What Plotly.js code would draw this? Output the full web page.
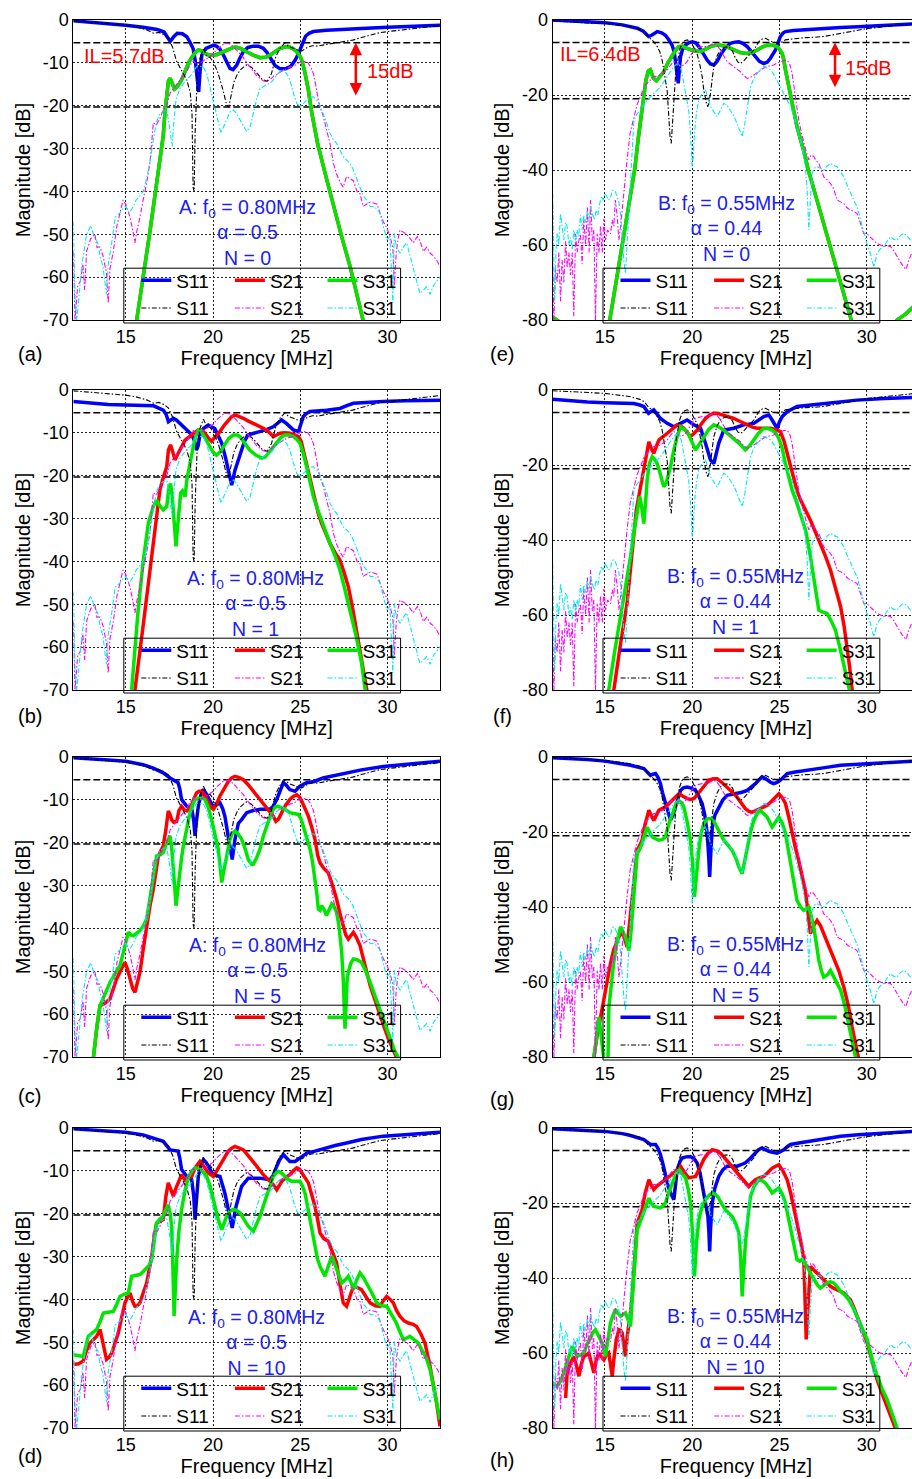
<!DOCTYPE html>
<html><head><meta charset="utf-8">
<script src="https://cdn.plot.ly/plotly-3.0.1.min.js"></script>
<style>html,body{margin:0;padding:0;overflow:hidden;background:#fff;width:912px;height:1479px}#chart{width:922px;height:1479px}</style>
</head><body><div id="chart"></div>
<script>
// ===================== DATA =====================
// frequency axis ticks / magnitude ticks
const xTicks = [15, 20, 25, 30];
const yTicksA = [0, -10, -20, -30, -40, -50, -60, -70];
const yTicksB = [0, -20, -40, -60, -80];
const traceNames = ['S11', 'S21', 'S31'];
const nValues = [0, 1, 5, 10];
const infoA = ['A: f<sub>0</sub> = 0.80MHz', 'α = 0.5'];
const infoB = ['B: f<sub>0</sub> = 0.55MHz', 'α = 0.44'];
const ilLevelsA = [-5.3, -20.3];
const ilLevelsB = [-6.0, -21.0];
const ilTextA = 'IL=5.7dB', ilTextB = 'IL=6.4dB', spanText = '15dB';

// ---- Device A, measured [MHz, dB]
const measA_S11 = [[12,-0.2],[13,-0.5],[14,-0.8],[15,-1.2],[15.6,-1.6],[16.2,-2.3],[16.6,-3.1],[16.9,-2.9],[17.2,-3.4],[17.45,-4.2],[17.7,-6.5],[17.9,-9.5],[18.1,-11],[18.3,-12.5],[18.5,-14],[18.7,-17],[18.8,-22],[18.86,-39],[18.92,-40],[18.98,-26],[19.1,-13],[19.25,-9],[19.45,-6.8],[19.65,-8.5],[19.85,-8.8],[20.05,-10],[20.3,-12.5],[20.55,-16],[20.78,-19.8],[20.9,-20.3],[21.05,-17.5],[21.2,-14.5],[21.4,-12.6],[21.6,-11.5],[21.9,-10.5],[22.2,-11],[22.5,-12.3],[22.8,-13.8],[23.1,-14.3],[23.35,-12.5],[23.6,-8.5],[23.85,-6.5],[24.1,-5.4],[24.35,-6.2],[24.6,-6.6],[24.85,-7],[25.1,-7.2],[25.4,-6.4],[25.7,-6],[26,-6.1],[26.5,-5.7],[27,-5.4],[27.5,-5.1],[28,-4.7],[28.5,-4.1],[29,-3.5],[29.5,-3],[30,-2.7],[31,-2.2],[32,-1.8],[33,-1.3]];
const measA_S21 = [[12,-54],[12.1,-70],[12.25,-62],[12.4,-61],[12.55,-57],[12.65,-63],[12.76,-54],[13,-51],[13.24,-50],[13.35,-53],[13.53,-53],[13.7,-55],[13.9,-59],[14,-66],[14.1,-58],[14.29,-54],[14.5,-48],[14.67,-45],[14.85,-42],[15,-43],[15.25,-46],[15.4,-49],[15.53,-52],[15.65,-49],[15.82,-46],[16,-42],[16.2,-38],[16.4,-33],[16.58,-24],[16.75,-24.5],[16.96,-23],[17.15,-21],[17.35,-20],[17.55,-17],[17.73,-16],[17.9,-15],[18.11,-14],[18.3,-13],[18.49,-12],[18.7,-10.5],[18.87,-9.5],[19.05,-10.3],[19.25,-10],[19.45,-9.5],[19.64,-9],[19.83,-8.5],[20.02,-8],[20.2,-7],[20.4,-6.2],[20.6,-5.6],[20.78,-5.4],[20.97,-5.6],[21.16,-6.2],[21.35,-7],[21.55,-7.8],[21.74,-8.8],[21.93,-10],[22.12,-11],[22.31,-12],[22.5,-13],[22.69,-13.6],[22.88,-14.2],[23.07,-14.4],[23.3,-13.8],[23.5,-13],[23.65,-12.8],[23.9,-12],[24.22,-11.3],[24.4,-11],[24.6,-10.8],[24.8,-10.2],[24.98,-9.8],[25.2,-9.7],[25.4,-9.8],[25.6,-11],[25.75,-12.5],[25.9,-15.5],[26.03,-18.7],[26.15,-20.5],[26.32,-22.5],[26.5,-25.5],[26.7,-28.8],[26.9,-33.5],[27.08,-36],[27.3,-38],[27.46,-39],[27.65,-36.5],[27.85,-37],[28.04,-37.5],[28.25,-40],[28.42,-40.5],[28.6,-43.5],[28.8,-43],[29,-42.5],[29.2,-42.7],[29.4,-43],[29.56,-45],[29.75,-47],[29.95,-48.5],[30.1,-50],[30.3,-53],[30.38,-62],[30.5,-54],[30.6,-51],[30.71,-49],[30.9,-49.5],[31.09,-50],[31.3,-51],[31.47,-52],[31.7,-50.5],[31.85,-51.5],[32.05,-54],[32.24,-53],[32.45,-54.5],[32.62,-55],[32.8,-56],[33,-57.5]];
const measA_S31 = [[12,-47],[12.1,-65],[12.2,-70],[12.3,-65],[12.5,-57],[12.76,-50],[13,-48],[13.24,-51],[13.4,-52],[13.53,-55],[13.7,-57.5],[13.9,-64],[14,-57],[14.2,-52],[14.4,-46],[14.67,-45],[14.85,-44],[15,-43.5],[15.2,-45],[15.44,-43.5],[15.6,-42],[15.82,-41],[16,-40],[16.2,-37],[16.4,-33],[16.58,-28],[16.75,-24],[16.96,-21.8],[17.15,-21.5],[17.35,-21],[17.55,-26],[17.66,-29.5],[17.75,-24],[17.88,-18.7],[18.1,-16],[18.3,-14.8],[18.5,-13.8],[18.68,-13.2],[18.87,-12],[19.06,-10.9],[19.25,-10.8],[19.45,-11],[19.64,-12.5],[19.83,-15.5],[20.02,-18.7],[20.2,-22],[20.45,-26.4],[20.6,-25],[20.78,-23],[20.97,-21.5],[21.16,-21],[21.35,-21.8],[21.55,-23.3],[21.74,-24.5],[21.93,-26],[22.12,-25],[22.31,-21.5],[22.5,-18.5],[22.69,-16],[22.88,-15.6],[23.07,-15],[23.26,-14.8],[23.45,-14],[23.65,-12.8],[23.84,-12],[24.03,-11.7],[24.22,-12.5],[24.4,-14],[24.6,-17],[24.8,-19.5],[24.98,-20.2],[25.17,-19.5],[25.36,-18.7],[25.56,-18],[25.75,-17.9],[25.94,-18.7],[26.13,-20],[26.32,-21.8],[26.51,-24],[26.7,-26.4],[26.9,-28],[27.08,-28.8],[27.27,-30.5],[27.46,-31.9],[27.66,-32.7],[27.85,-33.5],[28.04,-35],[28.23,-37],[28.42,-38.9],[28.6,-41],[28.8,-42],[29,-43.5],[29.18,-43.5],[29.37,-44],[29.56,-45],[29.75,-48],[29.95,-51.3],[30.13,-50.5],[30.3,-66],[30.38,-49.8],[30.5,-53],[30.71,-54.4],[30.9,-53],[31.09,-52],[31.28,-55],[31.47,-57.5],[31.66,-61],[31.85,-63.8],[32.05,-63],[32.24,-62.2],[32.43,-64],[32.62,-62],[32.8,-61],[33,-59.9]];

// ---- Device A, simulated (N = 0, 1, 5, 10)
const simA0_S11 = [[12,-0.2],[13,-0.5],[14,-0.8],[15,-1.2],[16,-1.7],[16.8,-2.2],[17.2,-2.8],[17.4,-4],[17.55,-5],[17.75,-3.9],[17.95,-3.1],[18.25,-3.2],[18.5,-3.9],[18.7,-5.3],[18.87,-6.8],[19.0,-10],[19.1,-14],[19.18,-16.8],[19.26,-12],[19.36,-8.2],[19.6,-6.6],[19.83,-6.1],[20.0,-5.9],[20.2,-6.1],[20.4,-6.8],[20.6,-8.2],[20.8,-10],[20.97,-11.3],[21.15,-11.6],[21.36,-10.5],[21.55,-8.8],[21.74,-7.4],[22.0,-6.4],[22.3,-6.1],[22.6,-6.1],[22.88,-6.6],[23.1,-7.6],[23.3,-9],[23.55,-10.6],[23.85,-11.4],[24.15,-11.4],[24.45,-10.8],[24.7,-9.4],[24.9,-7.8],[25.0,-6.8],[25.15,-5],[25.3,-3.8],[25.5,-3.1],[25.75,-2.7],[26.5,-2.4],[27.5,-2.1],[28.8,-1.9],[30,-1.7],[31.5,-1.4],[33,-1.2]];
const simA0_S31 = [[15.55,-72],[15.63,-70],[16.4,-49],[17.15,-27],[17.25,-21.4],[17.35,-16.7],[17.45,-14.2],[17.54,-13.6],[17.65,-14.8],[17.8,-16.1],[17.95,-15.6],[18.2,-14],[18.4,-12],[18.6,-10],[18.8,-8.6],[19.0,-7.5],[19.16,-7],[19.35,-7.2],[19.54,-7.8],[19.8,-8.2],[20.2,-8.1],[20.5,-7.5],[20.8,-7],[21.1,-6.5],[21.3,-6.3],[21.6,-6.7],[21.93,-7.4],[22.3,-8.2],[22.7,-8.8],[23.0,-8.7],[23.26,-8.2],[23.55,-7.3],[23.84,-6.6],[24.1,-6.3],[24.3,-6.2],[24.55,-6.6],[24.8,-7.4],[25.0,-8.6],[25.1,-9.6],[25.25,-12],[25.46,-16.3],[25.65,-21.5],[25.84,-26.2],[26.0,-29],[26.5,-37],[26.9,-43.5],[27.4,-51],[27.85,-57.5],[28.2,-63],[28.6,-70],[28.65,-71]];
const simA0_S21 = simA0_S31; // identical to S31 for N = 0 (hidden under the green curve)

const simA1_S11 = [[12,-2.7],[13,-3.1],[14,-3.4],[15,-3.5],[16,-3.6],[16.6,-3.7],[17.15,-4.7],[17.3,-5.5],[17.45,-7.4],[17.6,-7],[17.73,-6.6],[17.9,-7],[18.1,-7.8],[18.5,-9.3],[18.8,-10.5],[18.95,-12],[19.06,-14],[19.15,-13],[19.25,-10.5],[19.45,-9],[19.73,-8.2],[20.1,-9],[20.3,-10.5],[20.5,-12.4],[20.7,-15.5],[20.9,-19.4],[21.07,-22.2],[21.26,-18.7],[21.55,-14.8],[21.8,-12],[22.0,-10.5],[22.7,-9.7],[23.1,-9.2],[23.45,-8.6],[23.75,-7.6],[23.93,-7],[24.2,-7.8],[24.6,-9.3],[24.9,-9.7],[25.05,-8],[25.17,-6.2],[25.35,-5.5],[25.55,-5],[26.5,-4.7],[27.27,-4.3],[27.7,-3.6],[28.04,-3.1],[29.75,-2.7],[31,-2.5],[33,-2.4]];
const simA1_S21 = [[15.45,-72],[15.53,-70],[16.0,-55],[16.5,-38],[16.96,-23.3],[17.15,-20.5],[17.35,-17.9],[17.45,-14],[17.57,-12.8],[17.7,-14.5],[17.82,-16.3],[18.0,-14.8],[18.1,-14],[18.4,-11.7],[18.78,-10.5],[19.16,-9.3],[19.35,-9.5],[19.54,-10.1],[19.75,-11.3],[19.92,-12],[20.1,-11],[20.4,-9.7],[20.65,-8.2],[20.88,-7],[21.07,-6.2],[21.26,-5.8],[21.5,-6.1],[21.74,-6.6],[22.0,-7.2],[22.31,-7.8],[22.7,-8.6],[23.07,-9.3],[23.3,-10.2],[23.45,-10.9],[23.65,-10.5],[23.84,-10.1],[24.1,-10],[24.4,-10.1],[24.7,-10.5],[24.9,-10.9],[25.05,-12],[25.17,-14],[25.3,-16],[25.46,-18.7],[25.65,-22.5],[25.84,-25.7],[26.03,-28.8],[26.22,-31.1],[26.45,-33.5],[26.7,-35.8],[27.0,-38],[27.27,-39.7],[27.5,-42.5],[27.75,-45.9],[28.0,-51],[28.23,-56.8],[28.5,-63],[28.8,-70],[28.85,-71]];
const simA1_S31 = [[15.28,-72],[15.34,-70],[15.7,-52],[16.0,-40],[16.3,-31],[16.58,-27.2],[16.77,-25.7],[16.95,-27],[17.15,-28],[17.35,-27.2],[17.47,-23],[17.57,-21.8],[17.67,-25],[17.8,-32],[17.88,-36.5],[17.95,-33],[18.05,-28],[18.15,-24],[18.25,-23.5],[18.4,-24.9],[18.5,-21],[18.6,-18.7],[18.75,-15.5],[18.87,-13.2],[19.0,-11],[19.16,-9.3],[19.3,-9.5],[19.44,-10.5],[19.65,-11.8],[19.83,-13.2],[20.0,-14.5],[20.2,-15.2],[20.4,-14.5],[20.6,-13.2],[20.9,-11.3],[21.16,-10.5],[21.4,-10.5],[21.55,-10.9],[21.8,-12.2],[22.1,-14],[22.45,-15.2],[22.8,-15.9],[23.0,-15.6],[23.3,-14],[23.65,-12],[23.9,-11],[24.1,-10.5],[24.35,-10.5],[24.6,-10.9],[24.8,-11.5],[24.98,-12.4],[25.15,-14.5],[25.36,-17.9],[25.55,-21.5],[25.75,-24.9],[26.0,-28],[26.13,-29.5],[26.4,-32.5],[26.7,-35.8],[27.0,-38.8],[27.27,-42],[27.55,-46.5],[27.85,-51.3],[28.2,-57.5],[28.5,-63.5],[28.7,-70],[28.75,-71]];

const simA5_S11 = [[12,-0.2],[13,-0.4],[14,-0.7],[15,-1],[16,-1.8],[16.58,-2.6],[17.15,-3.7],[17.54,-4.9],[17.8,-5.5],[18.0,-6],[18.1,-7.5],[18.2,-9.9],[18.5,-11.5],[18.78,-11.9],[18.9,-15],[18.97,-18.4],[19.05,-15],[19.16,-11.5],[19.3,-9],[19.45,-7.6],[19.6,-8.5],[19.73,-9.5],[20.0,-11.5],[20.2,-11.2],[20.4,-10.7],[20.55,-12],[20.68,-13.8],[20.85,-18],[20.97,-21.5],[21.1,-23.9],[21.26,-19.2],[21.45,-15.5],[21.64,-14.6],[21.93,-13],[22.3,-12.5],[22.7,-12.2],[23.26,-12.2],[23.45,-11.5],[23.65,-9.9],[23.85,-8],[24.03,-6],[24.2,-6.6],[24.4,-7.6],[24.7,-8],[24.98,-6.8],[25.36,-6],[25.8,-5.7],[26.3,-4.9],[27,-4.3],[27.65,-3.7],[28.5,-3],[29.75,-2.2],[31,-1.7],[32,-1.3],[33,-1]];
const simA5_S21 = [[13.1,-72],[13.15,-70],[13.35,-63],[13.53,-58],[13.8,-57.5],[14.1,-56.4],[14.3,-54],[14.48,-51.8],[14.75,-49.5],[14.96,-47.9],[15.1,-49.5],[15.25,-51.8],[15.4,-54],[15.53,-54.9],[15.65,-53],[15.82,-50.2],[16.0,-45],[16.2,-39.4],[16.4,-34.5],[16.58,-30.9],[16.75,-26],[16.87,-23.1],[17.0,-22],[17.15,-20.8],[17.3,-17],[17.44,-12.6],[17.55,-13.5],[17.63,-14.6],[17.75,-15.2],[17.92,-15],[18.05,-12.5],[18.2,-11.5],[18.35,-12.3],[18.5,-12.6],[18.65,-12],[18.78,-11.1],[18.95,-9.4],[19.06,-8.4],[19.2,-8],[19.35,-8],[19.55,-9.2],[19.73,-10.7],[19.9,-11.8],[20.02,-12.2],[20.2,-11],[20.4,-9.1],[20.65,-7.2],[20.88,-5.7],[21.07,-4.9],[21.26,-4.5],[21.5,-4.8],[21.74,-5.3],[22.0,-6.4],[22.31,-8],[22.6,-9.4],[22.88,-10.7],[23.15,-12.2],[23.45,-13.8],[23.6,-15],[23.75,-14.5],[23.93,-13],[24.15,-11.3],[24.4,-9.9],[24.6,-9.2],[24.8,-8.8],[24.95,-9.3],[25.08,-10.3],[25.25,-11.8],[25.46,-13.8],[25.65,-16.3],[25.84,-19.2],[26.0,-23],[26.13,-24.7],[26.35,-26],[26.6,-27],[26.85,-30],[27.08,-33.2],[27.3,-37],[27.46,-39.4],[27.6,-41.5],[27.75,-42.5],[27.9,-41.5],[28.04,-40.9],[28.2,-42],[28.42,-44],[28.7,-48.5],[29.0,-53.3],[29.3,-57],[29.56,-60.3],[29.8,-63],[30.04,-65.7],[30.3,-68],[30.5,-70],[30.55,-71]];
const simA5_S31 = [[13.1,-72],[13.15,-70],[13.35,-63],[13.53,-58],[13.8,-55.5],[14.1,-52.6],[14.4,-50.5],[14.67,-48.7],[14.9,-45],[15.15,-40.9],[15.3,-41.5],[15.44,-41.7],[15.6,-41.2],[15.82,-40.5],[16.0,-39.5],[16.2,-37.8],[16.35,-34],[16.49,-30.1],[16.65,-26],[16.77,-23.1],[17.0,-22.8],[17.15,-22.3],[17.35,-20],[17.54,-18.4],[17.63,-21],[17.73,-25.4],[17.82,-31],[17.88,-34.7],[17.95,-32],[18.07,-27.8],[18.2,-23.5],[18.3,-20.8],[18.5,-16.5],[18.68,-13],[18.85,-11],[18.97,-9.9],[19.1,-9.6],[19.25,-9.5],[19.4,-9.6],[19.54,-9.9],[19.75,-12],[19.92,-14.6],[20.1,-17.5],[20.3,-21.5],[20.42,-26],[20.5,-29.3],[20.6,-27],[20.7,-24.7],[20.85,-21.5],[20.97,-19.2],[21.1,-17.8],[21.26,-17.3],[21.45,-18],[21.64,-19.2],[21.85,-21.5],[22.02,-23.9],[22.2,-25],[22.31,-25],[22.5,-23.5],[22.69,-21.5],[22.88,-18.5],[23.07,-16.1],[23.26,-14],[23.45,-12.2],[23.6,-11.6],[23.74,-11.5],[23.95,-11.8],[24.12,-12.2],[24.4,-13],[24.65,-13.3],[24.89,-13.4],[25.05,-14.5],[25.17,-16.1],[25.36,-18.5],[25.56,-21.5],[25.7,-24.5],[25.84,-28.5],[25.95,-32],[26.03,-35.5],[26.13,-35.8],[26.22,-34.7],[26.35,-35.5],[26.5,-37],[26.65,-35.5],[26.8,-34.3],[26.95,-35],[27.08,-36.3],[27.2,-39],[27.37,-45.6],[27.46,-52],[27.52,-58],[27.56,-63.4],[27.62,-58],[27.68,-52],[27.75,-50.2],[27.9,-48],[28.04,-47.1],[28.25,-47.3],[28.5,-47.9],[28.75,-50],[29.0,-52.6],[29.3,-56],[29.56,-59.5],[29.85,-62.5],[30.13,-65.7],[30.4,-68.5],[30.6,-70],[30.65,-71]];

const simA10_S11 = [[12,-0.2],[13,-0.5],[14,-0.8],[15,-1],[16,-1.6],[16.58,-2.3],[17.15,-3.1],[17.54,-5.1],[17.8,-5.3],[18.0,-5.4],[18.1,-7],[18.2,-9.7],[18.5,-11.3],[18.78,-12],[18.9,-16],[18.97,-21.4],[19.05,-17],[19.16,-11.3],[19.3,-8.8],[19.45,-7.4],[19.6,-8],[19.73,-8.9],[20.0,-10.9],[20.4,-11.3],[20.68,-15.2],[20.85,-18.5],[20.97,-20.6],[21.1,-23.3],[21.32,-18.3],[21.5,-15.2],[21.64,-13.6],[22.02,-11.7],[22.7,-11.7],[23.26,-12.1],[23.45,-11],[23.65,-8.9],[23.85,-7.2],[24.03,-6.2],[24.2,-6.9],[24.4,-7.8],[24.7,-7.8],[25.08,-6.6],[25.4,-5.8],[25.84,-5.4],[26.41,-4.7],[27,-4.1],[27.65,-3.5],[28.5,-2.7],[29.75,-1.9],[31,-1.5],[32,-1.2],[33,-1]];
const simA10_S21 = [[12,-55.2],[12.3,-55],[12.57,-54.4],[12.75,-52],[12.95,-50.2],[13.15,-49.5],[13.34,-48.6],[13.53,-47],[13.7,-50.5],[13.9,-54],[14.05,-53.5],[14.2,-52.5],[14.4,-50],[14.58,-47.8],[14.78,-44],[14.96,-40.8],[15.1,-39.5],[15.25,-38.5],[15.4,-40.5],[15.53,-41.6],[15.65,-41.5],[15.82,-40.8],[16.0,-38.5],[16.2,-36.2],[16.35,-33],[16.49,-29.9],[16.65,-25],[16.77,-22.2],[16.95,-21.8],[17.15,-21.4],[17.3,-16],[17.44,-12.8],[17.6,-14.5],[17.73,-15.9],[17.88,-14],[18.0,-12.8],[18.2,-10.9],[18.4,-12.1],[18.6,-11.6],[18.78,-11.3],[18.95,-9.5],[19.06,-8.9],[19.25,-7.8],[19.45,-8.8],[19.6,-9.8],[19.73,-10.5],[20.02,-11.3],[20.2,-10],[20.4,-8.6],[20.65,-6.8],[20.88,-5.4],[21.07,-4.7],[21.26,-4.3],[21.5,-4.7],[21.74,-5.1],[22.0,-6.4],[22.31,-7.8],[22.6,-9.4],[22.88,-10.9],[23.15,-12],[23.45,-13.2],[23.65,-14.4],[23.8,-13.5],[23.95,-12.4],[24.15,-11.6],[24.4,-10.9],[24.6,-10],[24.8,-9.3],[24.95,-9.6],[25.1,-10.5],[25.3,-11.8],[25.46,-12.8],[25.65,-15.5],[25.84,-18.3],[26.0,-21.5],[26.13,-24.5],[26.35,-25.8],[26.6,-26.4],[26.85,-29],[27.08,-31.5],[27.25,-36],[27.46,-40.8],[27.65,-41.6],[27.85,-39],[28.04,-36.9],[28.25,-37.2],[28.5,-37.7],[28.75,-39.3],[29.0,-40.8],[29.3,-41.5],[29.56,-41.6],[29.75,-40.3],[29.95,-39.3],[30.15,-40],[30.33,-40.8],[30.5,-42.5],[30.7,-43.9],[30.95,-45],[31.19,-45.5],[31.45,-45.8],[31.66,-46.3],[31.9,-48],[32.14,-50.2],[32.4,-55],[32.62,-59.5],[32.8,-64],[33,-69.6]];
const simA10_S31 = [[12,-52.9],[12.3,-53.2],[12.57,-53.3],[12.86,-48.6],[13.1,-47.8],[13.34,-47],[13.55,-45],[13.72,-43.2],[14.0,-43],[14.29,-42.8],[14.5,-41],[14.67,-39.3],[14.9,-38.8],[15.15,-38.5],[15.34,-34.6],[15.6,-34.4],[15.82,-34.2],[16.0,-33.5],[16.2,-32.7],[16.35,-32],[16.49,-30.7],[16.65,-26],[16.77,-22.2],[16.95,-21.3],[17.15,-20.6],[17.3,-19],[17.44,-17.9],[17.55,-20],[17.63,-22.9],[17.7,-32],[17.77,-43.9],[17.85,-37],[17.92,-30.7],[18.05,-24],[18.2,-19],[18.4,-14.5],[18.6,-11.3],[18.8,-10],[18.97,-9.3],[19.15,-9.5],[19.3,-9.7],[19.45,-10.3],[19.64,-11.3],[19.83,-13.5],[20.02,-16.7],[20.15,-19],[20.3,-21.4],[20.5,-23.7],[20.65,-22],[20.78,-20.6],[20.97,-19.4],[21.16,-19],[21.35,-19.2],[21.55,-19.8],[21.8,-21.5],[22.02,-22.9],[22.31,-24.1],[22.5,-22.5],[22.69,-20.6],[22.88,-18.2],[23.07,-15.9],[23.26,-13.5],[23.45,-11.3],[23.6,-10.5],[23.74,-10.1],[23.95,-10.6],[24.12,-11.3],[24.3,-12],[24.5,-12.4],[24.75,-12.4],[24.98,-12.4],[25.12,-13.5],[25.27,-15.2],[25.4,-18],[25.56,-21.4],[25.7,-25],[25.84,-28.4],[25.98,-30.5],[26.13,-32.3],[26.27,-33.5],[26.41,-34.6],[26.5,-33.5],[26.6,-32.3],[26.7,-31],[26.8,-29.9],[26.95,-31.5],[27.08,-33],[27.22,-35],[27.37,-36.2],[27.55,-35.5],[27.75,-34.6],[27.9,-36],[28.04,-37.7],[28.22,-35.5],[28.42,-33.8],[28.6,-34.8],[28.8,-36.2],[29.1,-38.5],[29.37,-40.8],[29.65,-41.5],[29.95,-41.6],[30.2,-43.5],[30.5,-45.5],[30.7,-47.5],[30.9,-49.4],[31.1,-49],[31.28,-48.6],[31.5,-49.3],[31.76,-50.2],[31.95,-51.7],[32.2,-53.5],[32.43,-56.4],[32.72,-62.6],[33,-68]];

// ---- Device B, measured
const measB_S11 = [[12,-0.2],[13,-0.5],[14,-0.8],[15,-0.9],[16,-1.5],[16.5,-1.8],[17,-2.5],[17.25,-3.1],[17.45,-4.3],[17.6,-4.9],[17.8,-5.8],[18,-7.1],[18.15,-8.5],[18.28,-10.7],[18.45,-15],[18.57,-19],[18.65,-25],[18.73,-31],[18.8,-32.9],[18.88,-27],[18.96,-20],[19.05,-14.5],[19.14,-11.6],[19.28,-8],[19.42,-6.2],[19.57,-5.5],[19.71,-5.3],[19.85,-5.6],[20,-6.5],[20.14,-7.6],[20.28,-9],[20.42,-11.5],[20.57,-15.1],[20.66,-18.5],[20.76,-21.3],[20.83,-22.5],[20.9,-23.1],[20.97,-21.5],[21.05,-19.6],[21.15,-15.5],[21.24,-12.4],[21.43,-9.5],[21.62,-8],[21.85,-7.3],[22.1,-7.1],[22.3,-8.2],[22.48,-10.2],[22.62,-11.2],[22.76,-11.6],[22.95,-10.9],[23.15,-9.8],[23.34,-9],[23.53,-8],[23.72,-6.5],[23.9,-5.3],[24.05,-5],[24.2,-4.9],[24.4,-5.4],[24.58,-5.8],[24.77,-6],[24.96,-6.2],[25.15,-5.8],[25.34,-5.3],[25.63,-5.1],[26,-4.9],[26.5,-4.7],[27,-4.6],[27.53,-4.4],[28,-4],[28.5,-3.6],[29,-3],[29.44,-2.7],[30,-2.3],[30.97,-1.8],[32,-1.3],[32.65,-0.9],[33,-0.8]];
const measB_S21 = [[12,-60],[12.08,-80],[12.17,-66],[12.27,-70],[12.36,-62],[12.46,-75],[12.55,-64],[12.65,-70],[12.75,-59],[12.84,-66],[12.94,-62],[13.03,-68],[13.13,-62],[13.22,-79],[13.32,-57],[13.41,-62],[13.5,-59],[13.6,-57],[13.7,-65],[13.79,-53],[13.9,-60],[14,-50],[14.1,-62],[14.18,-48],[14.28,-59],[14.37,-56],[14.46,-80],[14.56,-57],[14.66,-62],[14.75,-55],[14.85,-62],[14.94,-53],[15.04,-58.7],[15.15,-56],[15.32,-57],[15.42,-53.3],[15.51,-55],[15.6,-48],[15.7,-52],[15.8,-58.7],[15.9,-55],[16,-49.8],[16.1,-45],[16.27,-37.3],[16.45,-30],[16.66,-25.8],[16.85,-22.5],[17.04,-20.4],[17.23,-18],[17.42,-16.9],[17.61,-16],[17.8,-15.1],[17.99,-15],[18.18,-14.7],[18.37,-14],[18.57,-13.3],[18.76,-12],[18.95,-11.1],[19.14,-11.5],[19.33,-12.4],[19.52,-12],[19.71,-11.1],[19.9,-9.5],[20.1,-8],[20.28,-7.4],[20.48,-7.1],[20.66,-7],[20.86,-7.1],[21.05,-6.6],[21.24,-6.2],[21.43,-6.8],[21.62,-8],[21.81,-9.6],[22,-11.1],[22.19,-11.8],[22.38,-12.4],[22.57,-13.2],[22.76,-13.8],[22.95,-14.8],[23.15,-15.6],[23.34,-15.3],[23.53,-14.7],[23.72,-14],[23.9,-13.3],[24.1,-12.8],[24.3,-12.4],[24.48,-12.2],[24.67,-12],[24.86,-11.5],[25.05,-11.1],[25.24,-10.8],[25.44,-10.7],[25.6,-12],[25.72,-14.2],[25.82,-17.5],[25.9,-20.4],[26,-23.5],[26.1,-26.7],[26.25,-30],[26.39,-32.9],[26.55,-35.5],[26.68,-37.3],[26.8,-36],[26.96,-36.4],[27.1,-37.5],[27.25,-38.2],[27.4,-40],[27.53,-41.8],[27.7,-42.5],[27.92,-43.6],[28.1,-45],[28.3,-48],[28.5,-48.5],[28.68,-48.9],[28.85,-50],[29.06,-50.7],[29.25,-51],[29.44,-51.6],[29.62,-54],[29.82,-56.9],[30,-57],[30.2,-57.8],[30.4,-58.6],[30.59,-59.6],[30.78,-60],[30.97,-60.4],[31.16,-60.2],[31.35,-60.4],[31.54,-61.5],[31.73,-63.1],[31.92,-64.5],[32.1,-65.8],[32.25,-66.5],[32.4,-64],[32.55,-62.5],[32.7,-62.2],[32.85,-63],[33,-64]];
const measB_S31 = [[12,-43.6],[12.06,-60],[12.12,-74.7],[12.2,-62],[12.27,-56.9],[12.36,-60],[12.46,-51.6],[12.55,-55],[12.65,-58.7],[12.75,-54],[12.84,-55.1],[12.94,-60],[13.03,-58],[13.13,-61.3],[13.22,-56],[13.32,-59],[13.41,-56],[13.5,-57.8],[13.6,-52],[13.7,-56],[13.79,-52],[13.9,-54],[14,-51],[14.1,-53],[14.18,-49.8],[14.3,-52],[14.4,-53.3],[14.5,-50.7],[14.6,-52],[14.7,-49],[14.8,-47],[14.9,-48],[15,-46.2],[15.1,-47],[15.2,-48],[15.32,-47.5],[15.42,-45.5],[15.5,-45.3],[15.6,-45.8],[15.7,-47.1],[15.8,-48.5],[15.9,-52],[15.99,-58.7],[16.08,-64],[16.18,-67.6],[16.27,-60],[16.37,-52.4],[16.5,-38],[16.66,-26.7],[16.85,-25],[17.04,-24],[17.23,-22.5],[17.42,-21.3],[17.61,-20.5],[17.8,-19.6],[17.99,-18.7],[18.18,-17.8],[18.37,-16.5],[18.57,-15.1],[18.76,-13.5],[18.95,-12.4],[19.1,-11.8],[19.24,-11.6],[19.38,-13.5],[19.52,-16.9],[19.66,-20],[19.8,-24],[19.9,-30],[20,-39.1],[20.07,-36],[20.13,-30.2],[20.25,-24.5],[20.38,-21.3],[20.57,-19.5],[20.76,-18.7],[20.9,-20.5],[21.05,-23.1],[21.24,-24.5],[21.43,-25.8],[21.62,-24],[21.81,-22.2],[22,-22.8],[22.19,-24],[22.38,-25.5],[22.57,-27.6],[22.72,-29.5],[22.86,-31.1],[23,-28],[23.15,-24],[23.34,-17.8],[23.53,-15.5],[23.72,-14.2],[23.9,-13.2],[24.1,-12.4],[24.3,-12.8],[24.48,-13.3],[24.67,-14.5],[24.86,-16],[25.05,-17.8],[25.24,-19.6],[25.44,-21.3],[25.63,-23.1],[25.77,-25],[25.9,-26.7],[26.05,-29.5],[26.2,-32],[26.35,-35.5],[26.48,-39.1],[26.58,-45],[26.68,-56],[26.77,-48],[26.87,-40.9],[27,-39.5],[27.15,-39.1],[27.34,-39.5],[27.53,-40],[27.72,-39],[27.92,-38.2],[28.1,-38.8],[28.3,-39.1],[28.5,-40.5],[28.68,-41.8],[28.87,-44],[29.06,-46.2],[29.25,-48],[29.44,-49.8],[29.62,-53],[29.82,-56.9],[30,-59.5],[30.2,-62.2],[30.3,-64],[30.4,-65.8],[30.5,-64],[30.59,-62.2],[30.78,-61],[30.97,-60.4],[31.16,-59],[31.35,-57.8],[31.54,-58.5],[31.73,-58.7],[31.92,-57.5],[32.1,-56.9],[32.3,-57.5],[32.5,-58.7],[32.7,-58.5],[33,-59]];

// ---- Device B, simulated (N = 0, 1, 5, 10)
const simB0_S11 = [[12,0],[13,-0.3],[14,-0.5],[15,-0.7],[16,-1.3],[16.85,-2.2],[17.2,-3],[17.5,-4.4],[17.7,-4],[18.0,-3.1],[18.25,-3.4],[18.45,-4],[18.65,-5.2],[18.85,-6.7],[18.97,-8.5],[19.04,-10.7],[19.12,-14],[19.2,-16.9],[19.27,-13],[19.33,-9.8],[19.45,-7.8],[19.62,-6.7],[19.8,-6.1],[20.0,-5.8],[20.2,-6.1],[20.38,-7.1],[20.6,-8.7],[20.86,-10.7],[21.05,-11.7],[21.24,-12],[21.43,-11],[21.62,-9.3],[21.9,-7.4],[22.19,-6.2],[22.45,-5.9],[22.67,-5.8],[22.9,-6.2],[23.15,-7.1],[23.4,-8.5],[23.62,-9.8],[23.85,-11],[24.1,-11.6],[24.3,-11.2],[24.48,-10.2],[24.65,-9],[24.77,-8],[24.9,-6.3],[25.05,-4.4],[25.2,-3.5],[25.34,-3.1],[25.8,-2.8],[26.58,-2.5],[27.5,-2.2],[28.5,-2],[29.5,-1.8],[30.4,-1.6],[31.5,-1.3],[32.65,-1.1],[33,-1]];
const simB0_S31 = [[12,-79.2],[12.4,-80.5],[12.9,-83],[15.0,-88],[15.28,-80],[15.7,-68],[16.08,-57],[16.47,-46.5],[16.72,-39.5],[16.9,-32],[17.05,-26],[17.2,-21],[17.35,-16],[17.49,-13.6],[17.6,-13.3],[17.78,-15.5],[17.95,-16.2],[18.16,-15],[18.37,-13.8],[18.6,-11.5],[18.85,-9.5],[19.05,-8],[19.23,-7.1],[19.45,-7],[19.71,-7.6],[20.1,-8.2],[20.48,-8.4],[20.75,-7.8],[21.05,-7.1],[21.35,-6.7],[21.62,-6.7],[22.0,-7.2],[22.38,-8],[22.75,-8.7],[23.15,-8.9],[23.45,-8.6],[23.72,-8],[24.0,-7.2],[24.3,-6.7],[24.6,-6.7],[24.86,-7.1],[25.0,-7.8],[25.15,-8.9],[25.25,-10.7],[25.34,-13.3],[25.5,-17],[25.63,-20.4],[25.8,-24.2],[26.0,-28.4],[26.39,-35],[26.65,-40],[27.1,-47.3],[27.53,-54.3],[28.0,-61.9],[28.5,-70],[29.1,-80],[29.6,-88],[31.2,-88],[31.73,-80],[32.2,-78.5],[32.65,-76.4],[33,-75]];
const simB0_S21 = simB0_S31; // identical to S31 for N = 0 (hidden under the green curve)

const simB1_S11 = [[12,-2.5],[13,-2.9],[14,-3.2],[15,-3.4],[16,-3.5],[16.66,-3.6],[17.0,-4],[17.23,-4.4],[17.5,-6.2],[17.65,-5.6],[17.8,-5.3],[18.0,-6.5],[18.18,-7.6],[18.57,-8.9],[18.95,-9.8],[19.33,-8.9],[19.71,-8],[20.1,-9.3],[20.48,-10.2],[20.76,-14.2],[20.95,-17.5],[21.05,-18.7],[21.24,-19.6],[21.4,-16.5],[21.52,-14.2],[21.81,-10.7],[22.38,-10.2],[22.95,-9.3],[23.53,-8.9],[24.1,-7.1],[24.39,-6.7],[24.55,-7.8],[24.67,-8.9],[24.86,-10.2],[25.0,-8.5],[25.15,-7.1],[25.44,-5.8],[26.0,-4.4],[26.8,-4],[27.53,-3.6],[28.5,-3],[29.44,-2.7],[31,-2.3],[32.65,-2],[33,-1.9]];
const simB1_S21 = [[15.45,-82],[15.51,-80],[15.9,-67.6],[16.27,-56.9],[16.5,-45],[16.66,-37.3],[16.8,-32],[16.94,-28.4],[17.1,-24],[17.23,-20.4],[17.38,-16.5],[17.52,-13.8],[17.65,-15.5],[17.8,-16.9],[17.95,-15],[18.1,-13.3],[18.35,-12.4],[18.57,-11.6],[18.85,-10.3],[19.14,-9.3],[19.35,-9.6],[19.52,-10.2],[19.72,-11.3],[19.9,-12.4],[20.1,-11.6],[20.28,-10.7],[20.5,-9.2],[20.76,-7.6],[21.0,-6.7],[21.24,-6.2],[21.5,-6.3],[21.81,-6.7],[22.1,-7.1],[22.38,-7.6],[22.75,-8.4],[23.15,-9.3],[23.45,-9.9],[23.72,-10.2],[24.1,-10.2],[24.48,-10.2],[24.8,-10.6],[25.05,-11.1],[25.25,-13.5],[25.44,-16.9],[25.63,-20.5],[25.82,-24],[26.0,-26.8],[26.2,-29.3],[26.5,-32],[26.77,-34.7],[27.05,-37.8],[27.34,-40.9],[27.63,-44.3],[27.92,-48],[28.2,-52.5],[28.5,-57.8],[28.7,-63],[28.87,-68.4],[29.02,-74],[29.16,-80],[29.2,-82]];
const simB1_S31 = [[15.18,-82],[15.22,-80],[15.55,-70],[15.9,-60.4],[16.2,-52],[16.47,-44.4],[16.66,-38],[16.85,-32],[16.93,-29.5],[17.0,-28.4],[17.1,-31],[17.23,-35.6],[17.33,-30],[17.42,-24],[17.55,-19.5],[17.71,-17.8],[17.85,-18.5],[17.99,-19.6],[18.15,-22],[18.3,-24.8],[18.37,-25.8],[18.5,-25],[18.65,-22.5],[18.76,-20.4],[18.95,-16],[19.14,-12.4],[19.33,-9.8],[19.5,-10.3],[19.71,-11.1],[19.95,-13.5],[20.19,-16],[20.4,-14.5],[20.66,-12.4],[20.95,-10.5],[21.24,-9.3],[21.5,-9.8],[21.81,-10.7],[22.1,-11.8],[22.38,-12.9],[22.7,-14.3],[23.05,-16],[23.3,-14.8],[23.53,-13.3],[23.8,-11.5],[24.1,-10.2],[24.35,-10.3],[24.58,-10.7],[24.78,-11.5],[24.96,-12.9],[25.15,-15.5],[25.34,-19.6],[25.53,-23.2],[25.72,-26.7],[25.95,-29.5],[26.2,-32.9],[26.5,-37.5],[26.77,-44.4],[27.0,-51],[27.25,-58.7],[27.45,-59.2],[27.72,-59.6],[27.95,-61.5],[28.2,-64],[28.45,-68.5],[28.68,-72.9],[28.9,-77],[29.06,-80],[29.1,-82]];

const simB5_S11 = [[12,-0.2],[13,-0.4],[14,-0.7],[15,-1.1],[16,-1.7],[16.47,-2.2],[17.23,-3.1],[17.45,-4],[17.61,-4.9],[17.75,-4.6],[17.9,-4.4],[18.05,-5.5],[18.18,-7.1],[18.3,-9.5],[18.47,-12.4],[18.62,-15],[18.76,-16.9],[18.9,-15.5],[19.04,-13.3],[19.2,-10.5],[19.33,-8.9],[19.5,-8.2],[19.71,-8],[19.95,-8.3],[20.19,-8.9],[20.38,-10.5],[20.57,-12.4],[20.72,-15.5],[20.86,-20.4],[20.95,-27],[21.0,-32],[21.06,-26],[21.15,-18.7],[21.3,-15.5],[21.52,-13.3],[21.75,-11.5],[22.0,-10.2],[22.3,-10],[22.57,-9.8],[22.85,-9.4],[23.15,-8.9],[23.4,-8],[23.62,-7.1],[23.8,-6.2],[24.0,-5.3],[24.15,-5.6],[24.29,-6.2],[24.5,-6.8],[24.67,-7.1],[24.86,-6.8],[25.05,-6.2],[25.25,-5.3],[25.44,-4.4],[25.9,-4],[26.39,-3.6],[27.5,-2.9],[28.5,-2.2],[29.5,-1.9],[30.4,-1.6],[31.5,-1.3],[32.65,-1.1],[33,-1]];
const simB5_S21 = [[14.3,-83],[14.37,-80],[14.55,-74.5],[14.75,-69.3],[14.9,-65],[15.04,-61.3],[15.18,-58],[15.32,-55.1],[15.5,-51.5],[15.7,-48.9],[15.85,-47.5],[15.99,-47.1],[16.1,-48],[16.27,-50.7],[16.4,-45],[16.56,-38.2],[16.7,-31],[16.85,-24.9],[17.0,-23.5],[17.13,-22.2],[17.3,-18],[17.52,-14.2],[17.65,-15.5],[17.8,-16.9],[17.95,-15.5],[18.09,-14.2],[18.3,-13.7],[18.47,-13.3],[18.65,-12.5],[18.85,-11.6],[19.05,-10.7],[19.24,-9.8],[19.45,-10.4],[19.71,-11.1],[19.9,-11.3],[20.1,-11.1],[20.3,-10],[20.48,-8.9],[20.7,-7.4],[20.95,-6.2],[21.2,-5.8],[21.43,-5.8],[21.7,-6.8],[22.0,-8],[22.3,-9.4],[22.57,-10.7],[22.8,-12.2],[23.05,-13.8],[23.25,-14.5],[23.43,-14.7],[23.65,-14.3],[23.9,-13.8],[24.1,-13.4],[24.29,-12.9],[24.5,-12],[24.67,-11.1],[24.82,-10.3],[24.96,-9.8],[25.15,-10.8],[25.34,-12.4],[25.53,-16],[25.72,-20.4],[25.9,-24],[26.1,-27.6],[26.3,-31.5],[26.48,-35.6],[26.62,-41],[26.77,-47.1],[26.95,-45],[27.15,-43.6],[27.35,-45],[27.53,-47.1],[27.8,-50],[28.1,-53.3],[28.4,-57],[28.68,-61.3],[28.95,-66.5],[29.16,-72],[29.35,-76.5],[29.54,-80],[29.6,-82]];
const simB5_S31 = [[14.3,-83],[14.37,-80],[14.52,-74],[14.66,-69.3],[14.8,-75],[14.92,-80],[15.0,-83],[15.18,-80],[15.23,-66.7],[15.5,-55],[15.7,-49],[15.9,-45.3],[16.05,-46.5],[16.18,-48],[16.37,-51.6],[16.47,-48],[16.56,-42.7],[16.7,-33],[16.85,-25.8],[17.0,-24.5],[17.13,-23.1],[17.3,-20.5],[17.42,-18.7],[17.55,-20],[17.71,-21.3],[17.9,-21.8],[18.09,-22.2],[18.3,-22],[18.47,-21.3],[18.65,-18],[18.85,-15.1],[19.05,-12.8],[19.24,-11.6],[19.4,-12.3],[19.52,-13.3],[19.7,-17],[19.9,-22.2],[20.02,-28],[20.13,-37.3],[20.22,-32],[20.38,-24.9],[20.5,-20.5],[20.66,-17.8],[20.85,-16.5],[21.05,-16.4],[21.25,-17.2],[21.43,-18.7],[21.62,-20.5],[21.81,-22.2],[22.05,-23.5],[22.29,-24.9],[22.5,-27],[22.67,-29.3],[22.86,-31.1],[23.0,-28],[23.15,-24],[23.34,-20],[23.53,-16.9],[23.72,-15.1],[23.9,-14.2],[24.1,-15],[24.29,-16],[24.45,-17.5],[24.58,-18.7],[24.75,-17.5],[24.96,-16],[25.15,-17.5],[25.34,-20.4],[25.53,-25.5],[25.72,-31.1],[25.86,-35.5],[26.0,-38.2],[26.2,-40],[26.39,-40.9],[26.55,-40.5],[26.68,-40],[26.82,-42.5],[26.96,-45.3],[27.1,-49.5],[27.25,-54.2],[27.4,-57],[27.53,-58.7],[27.72,-58.2],[27.92,-56.9],[28.2,-59.5],[28.5,-62.2],[28.75,-66.5],[28.97,-71.1],[29.15,-75.5],[29.35,-80],[29.4,-82]];

const simB10_S11 = [[12,-0.2],[13,-0.4],[14,-0.7],[15,-0.9],[16,-1.5],[16.47,-2],[17.23,-3.1],[17.45,-3.8],[17.61,-4.4],[17.75,-4.4],[17.9,-4.4],[18.05,-5.5],[18.18,-7.1],[18.32,-9.5],[18.47,-12.9],[18.62,-15.5],[18.76,-17.3],[18.88,-18.5],[18.95,-19.1],[19.05,-15],[19.14,-11.1],[19.3,-9],[19.42,-8],[19.65,-7.7],[19.9,-7.6],[20.1,-8.2],[20.28,-9.3],[20.45,-12],[20.66,-17.3],[20.8,-20.5],[20.9,-23.6],[20.96,-28],[21.0,-32.9],[21.05,-27],[21.15,-20],[21.3,-16],[21.52,-12.9],[21.75,-11.2],[22.0,-10.2],[22.3,-10.2],[22.57,-10.2],[22.8,-9.8],[23.05,-9.3],[23.35,-8],[23.62,-6.7],[23.8,-5.8],[24.0,-5.3],[24.2,-5.8],[24.39,-6.2],[24.6,-6.5],[24.86,-6.7],[25.05,-6.3],[25.24,-5.8],[25.44,-5],[25.63,-4.4],[26.1,-4],[26.58,-3.6],[27.5,-2.9],[28.5,-2.2],[29.5,-1.8],[30.4,-1.5],[31.5,-1.2],[32.65,-0.9],[33,-0.8]];
const simB10_S21 = [[12.75,-72],[12.84,-65.3],[13.0,-63],[13.22,-60.9],[13.38,-63.5],[13.51,-66.2],[13.65,-63],[13.79,-60.9],[13.95,-60.5],[14.08,-60],[14.22,-62.5],[14.37,-65.3],[14.5,-62],[14.65,-60],[14.8,-61],[14.94,-61.8],[15.08,-60.5],[15.22,-60],[15.32,-63],[15.42,-66.2],[15.51,-61.8],[15.65,-56.5],[15.8,-53.8],[15.9,-54],[15.99,-54.7],[16.08,-57.5],[16.18,-60.9],[16.27,-56],[16.37,-52.9],[16.47,-49],[16.56,-44.9],[16.7,-35],[16.85,-25.3],[17.0,-23.5],[17.13,-21.8],[17.3,-17.5],[17.52,-13.8],[17.65,-15.2],[17.8,-16.4],[17.98,-15.5],[18.18,-14.7],[18.37,-14],[18.57,-13.3],[18.8,-12.5],[19.04,-11.6],[19.2,-10.8],[19.33,-10.2],[19.55,-11.8],[19.8,-13.3],[20.0,-13.1],[20.19,-12.9],[20.42,-10.8],[20.66,-8.4],[20.9,-6.8],[21.15,-5.8],[21.4,-6.1],[21.62,-6.7],[21.9,-8.2],[22.19,-9.8],[22.48,-11.3],[22.76,-12.9],[23.0,-14.3],[23.24,-15.6],[23.43,-14.6],[23.62,-13.8],[23.85,-13.3],[24.1,-12.9],[24.35,-11.8],[24.58,-10.7],[24.78,-10.2],[24.96,-9.8],[25.2,-11.5],[25.44,-13.8],[25.63,-17.2],[25.82,-20.9],[26.0,-25.3],[26.2,-29.8],[26.33,-33],[26.39,-35.1],[26.44,-42],[26.48,-52],[26.53,-56.4],[26.6,-50],[26.68,-42],[26.77,-36.9],[26.95,-37.8],[27.15,-38.7],[27.34,-39.6],[27.53,-40.4],[27.72,-41.3],[27.92,-42.2],[28.1,-42.7],[28.3,-43.1],[28.5,-43.5],[28.68,-44],[28.87,-44.9],[29.06,-45.8],[29.25,-47.8],[29.44,-50.2],[29.72,-53.6],[30.02,-57.3],[30.3,-62],[30.59,-67.1],[30.87,-70.8],[31.16,-74.2],[31.4,-77.3],[31.63,-80],[31.7,-82]];
const simB10_S31 = [[12,-68],[12.15,-68.5],[12.27,-68.9],[12.45,-67.5],[12.65,-65.3],[12.9,-61.5],[13.13,-58.2],[13.27,-59.5],[13.41,-60.9],[13.6,-60.5],[13.79,-60],[14.0,-57.5],[14.18,-55.6],[14.32,-54.5],[14.46,-53.8],[14.65,-55.5],[14.84,-57.3],[15.03,-60.9],[15.18,-56],[15.32,-52],[15.46,-50],[15.6,-48.4],[15.75,-49.3],[15.9,-50.2],[16.05,-49.7],[16.18,-49.3],[16.32,-51],[16.47,-52.9],[16.56,-46],[16.66,-39.6],[16.75,-33],[16.85,-27.1],[17.0,-25.3],[17.13,-23.6],[17.3,-21],[17.52,-18.7],[17.65,-20],[17.8,-20.9],[18.0,-21.1],[18.18,-21.3],[18.32,-20.8],[18.47,-20],[18.65,-17.3],[18.85,-14.7],[19.05,-12.5],[19.24,-11.1],[19.42,-12],[19.62,-13.3],[19.78,-16.5],[19.9,-20],[20.02,-28],[20.13,-39.6],[20.24,-31],[20.38,-24.4],[20.55,-21.3],[20.76,-19.1],[20.95,-18],[21.15,-17.3],[21.35,-17.8],[21.52,-18.7],[21.7,-20.3],[21.9,-21.8],[22.1,-22.7],[22.29,-23.6],[22.5,-25.5],[22.67,-28],[22.78,-35],[22.86,-44.9],[22.95,-38],[23.05,-30.7],[23.2,-23.5],[23.34,-18.2],[23.55,-15.5],[23.81,-13.8],[24.0,-14],[24.2,-14.7],[24.4,-16],[24.58,-17.3],[24.78,-16.6],[24.96,-16],[25.15,-17.5],[25.34,-20],[25.53,-24.5],[25.72,-28.9],[25.86,-32.5],[26.0,-35.1],[26.15,-35.5],[26.3,-35.1],[26.45,-36],[26.58,-36.9],[26.77,-38.7],[26.96,-40.4],[27.15,-41.7],[27.34,-42.7],[27.53,-42],[27.72,-41.3],[27.92,-41],[28.1,-41.3],[28.3,-42.3],[28.5,-43.6],[28.75,-44.6],[28.97,-45.8],[29.2,-47.8],[29.44,-50.2],[29.72,-53.2],[30.02,-56.4],[30.3,-61.5],[30.59,-66.2],[30.87,-69.5],[31.16,-72.4],[31.45,-76.2],[31.73,-80],[31.8,-82]];

// ===================== LAYOUT / STYLE =====================
const FONT = '"Liberation Sans", Arial, sans-serif';
const W = 922, H = 1479;
const PX = x => x / W, PY = y => 1 - y / H;
const colLeftPx = [73.3, 552.5], plotW = 366.7;
const rowTopPx = [20, 390, 757, 1128], plotH = 300;
const simColors = ['#0000ff', '#ff0000', '#00e600'];
const measColors = ['#000000', '#ff00ff', '#00e8f0'];
const measDash = '5px,2px,1.5px,2px';

const panels = [
  {lab:'(a)', col:0, row:0, dev:'A', n:0, sim:[simA0_S11, simA0_S21, simA0_S31], tx:21.97, ty:-49.6, labY:353.5},
  {lab:'(b)', col:0, row:1, dev:'A', n:1, sim:[simA1_S11, simA1_S21, simA1_S31], tx:22.45, ty:-49.8, labY:716},
  {lab:'(c)', col:0, row:2, dev:'A', n:2, sim:[simA5_S11, simA5_S21, simA5_S31], tx:22.55, ty:-49.8, labY:1096},
  {lab:'(d)', col:0, row:3, dev:'A', n:3, sim:[simA10_S11, simA10_S21, simA10_S31], tx:22.5, ty:-50, labY:1456},
  {lab:'(e)', col:1, row:0, dev:'B', n:0, sim:[simB0_S11, simB0_S21, simB0_S31], tx:21.99, ty:-55.6, labY:354},
  {lab:'(f)', col:1, row:1, dev:'B', n:1, sim:[simB1_S11, simB1_S21, simB1_S31], tx:22.48, ty:-56.4, labY:716},
  {lab:'(g)', col:1, row:2, dev:'B', n:2, sim:[simB5_S11, simB5_S21, simB5_S31], tx:22.5, ty:-56.7, labY:1099},
  {lab:'(h)', col:1, row:3, dev:'B', n:3, sim:[simB10_S11, simB10_S21, simB10_S31], tx:22.5, ty:-56.9, labY:1460}
];
const measSets = {A:[measA_S11, measA_S21, measA_S31], B:[measB_S11, measB_S21, measB_S31]};
const legendOffX = [63, 156.6, 249.2];

const traces = [];
const layout = {
  width: W, height: H, margin:{l:0, r:0, t:0, b:0},
  paper_bgcolor:'#fff', plot_bgcolor:'rgba(0,0,0,0)',
  font:{family:FONT, color:'#000', size:18},
  hovermode:false, shapes:[], annotations:[]
};

panels.forEach((p, i) => {
  const k = i + 1;
  const xa = k === 1 ? 'x' : 'x' + k, ya = k === 1 ? 'y' : 'y' + k;
  const left = colLeftPx[p.col], top = rowTopPx[p.row];
  const isA = p.dev === 'A';
  const yT = isA ? yTicksA : yTicksB;
  const axisCommon = {
    showgrid:true, gridcolor:'#222', gridwidth:1, griddash:'2px,2px',
    showline:true, linecolor:'#000', linewidth:1, mirror:true, zeroline:false,
    ticks:'', tickfont:{family:FONT, size:18, color:'#000'}, fixedrange:true
  };
  layout[k === 1 ? 'xaxis' : 'xaxis' + k] = Object.assign({}, axisCommon, {
    domain:[PX(left), PX(left + plotW)], anchor: ya, range:[12, 33],
    tickvals: xTicks, ticktext: xTicks.map(String),
    title:{text:'Frequency [MHz]', font:{family:FONT, size:20, color:'#000'}, standoff:4}
  });
  layout[k === 1 ? 'yaxis' : 'yaxis' + k] = Object.assign({}, axisCommon, {
    domain:[PY(top + plotH), PY(top)], anchor: xa, range:[yT[yT.length - 1], 0],
    tickvals: yT, ticktext: yT.map(String),
    title:{text:'Magnitude [dB]', font:{family:FONT, size:20, color:'#000'}, standoff:6}
  });

  const meas = measSets[p.dev];
  for (let c = 0; c < 3; c++) {
    const li = i * 3 + c;
    const lg = li === 0 ? 'legend' : 'legend' + (li + 1);
    traces.push({type:'scatter', mode:'lines', xaxis:xa, yaxis:ya, name:traceNames[c], legend:lg,
      x:p.sim[c].map(d => d[0]), y:p.sim[c].map(d => d[1]),
      line:{color:simColors[c], width:3.5}});
    layout[lg] = {x:PX(left + legendOffX[c]), y:PY(top + 241.5), xanchor:'left', yanchor:'top',
      bgcolor:'rgba(0,0,0,0)', borderwidth:0, orientation:'v', traceorder:'normal', tracegroupgap:0,
      font:{family:FONT, size:19, color:'#000'}};
  }
  for (let c = 0; c < 3; c++) {
    const li = i * 3 + c;
    const lg = li === 0 ? 'legend' : 'legend' + (li + 1);
    traces.push({type:'scatter', mode:'lines', xaxis:xa, yaxis:ya, name:traceNames[c], legend:lg,
      x:meas[c].map(d => d[0]), y:meas[c].map(d => d[1]),
      line:{color:measColors[c], width:1.1, dash:measDash}});
  }

  // IL reference lines
  (isA ? ilLevelsA : ilLevelsB).forEach(lv => layout.shapes.push({type:'line', xref:xa, yref:ya,
    x0:12, x1:33, y0:lv, y1:lv, layer:'below', line:{color:'#000', width:1.6, dash:'7px,3px'}}));
  // legend frame
  layout.shapes.push({type:'rect', xref:'paper', yref:'paper', x0:PX(left + 50.5), x1:PX(left + 327.3),
    y0:PY(top + 303), y1:PY(top + 248.2), layer:'above', line:{color:'#000', width:1}, fillcolor:'rgba(0,0,0,0)'});

  // text block
  const info = isA ? infoA : infoB;
  layout.annotations.push({xref:xa, yref:ya, x:p.tx, y:p.ty, xanchor:'center', yanchor:'middle', showarrow:false,
    text: info[0] + '<br>' + info[1] + '<br>N = ' + nValues[p.n], align:'center',
    font:{family:FONT, size:19.5, color:'#2020ee'}});
  // panel label
  layout.annotations.push({xref:'paper', yref:'paper', x:PX(p.col === 0 ? 29.5 : 502), y:PY(p.labY),
    xanchor:'center', yanchor:'middle', showarrow:false, text:p.lab, font:{family:FONT, size:20, color:'#000'}});

  if (p.n === 0) {
    const lv = isA ? ilLevelsA : ilLevelsB;
    layout.annotations.push({xref:xa, yref:ya, x:isA ? 12.5 : 12.31, y:isA ? -8.4 : -9.2, xanchor:'left', yanchor:'middle',
      showarrow:false, text:isA ? ilTextA : ilTextB, font:{family:FONT, size:20, color:'#ff0000'}});
    layout.annotations.push({xref:xa, yref:ya, x:isA ? 28.7 : 28.63, y:isA ? -11.9 : -12.9, xanchor:'left', yanchor:'middle',
      showarrow:false, text:spanText, font:{family:FONT, size:20, color:'#ff0000'}});
    layout.annotations.push({xref:xa, yref:ya, axref:xa, ayref:ya, x:28.18, y:lv[0], ax:28.18, ay:lv[1], text:' ',
      showarrow:true, arrowside:'end+start', arrowhead:2, startarrowhead:2, arrowsize:1, startarrowsize:1,
      arrowwidth:2.5, arrowcolor:'#ff0000', standoff:0, startstandoff:0});
  }
});

Plotly.newPlot('chart', traces, layout, {displayModeBar:false});
</script></body></html>
